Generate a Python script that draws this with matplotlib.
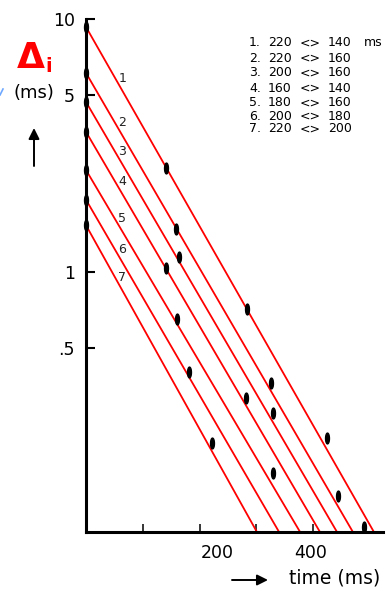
import numpy as np
import matplotlib
matplotlib.use("Agg")
import matplotlib.pyplot as plt
from matplotlib.path import Path
from matplotlib.lines import Line2D
from matplotlib.transforms import ScaledTranslation

# --- data -------------------------------------------------------------
line_ids = ["1", "2", "3", "4", "5", "6", "7"]
start_delta = [9.30, 6.12, 4.70, 3.58, 2.53, 1.93, 1.53]    # Δi at t = 0 (ms)
end_ms = [507, 470, 442, 412, 377, 340, 301]                 # time where each line reaches the floor
floor_delta = 0.0938

pair_a = [220, 220, 200, 160, 180, 200, 220]
pair_b = [140, 160, 160, 140, 160, 180, 200]

point_ms = [0, 0, 0, 0, 0, 0, 0,
            141, 159, 164, 141, 160, 181, 222,
            284, 326, 282, 329, 330,
            425, 444, 490]
point_delta = [9.30, 6.12, 4.70, 3.58, 2.53, 1.93, 1.53,
               2.58, 1.48, 1.15, 1.04, 0.652, 0.402, 0.211,
               0.714, 0.364, 0.318, 0.277, 0.161,
               0.221, 0.130, 0.098]

y_ticks = [10, 5, 1, 0.5]
y_tick_labels = ["10", "5", "1", ".5"]
x_ticks = [100, 200, 300, 400]
x_tick_labels = ["", "200", "", "400"]

# --- figure -----------------------------------------------------------
W, H = 391, 594
fig = plt.figure(figsize=(W / 100, H / 100), dpi=100)
ax = fig.add_axes([86 / W, 62 / H, 297 / W, 513 / H])

ax.set_yscale("log")
ax.set_xlim(0, 523)
ax.set_ylim(floor_delta, 10)

red = "#ff0000"
for i, lab in enumerate(line_ids):
    ax.plot([0, end_ms[i]], [start_delta[i], floor_delta], color=red, lw=1.3,
            solid_capstyle="butt", zorder=2)
    # label placed just right of the line
    t_lab = 64
    frac = t_lab / end_ms[i]
    v_lab = 10 ** (np.log10(start_delta[i]) * (1 - frac) + np.log10(floor_delta) * frac)
    ax.annotate(lab, xy=(t_lab, v_lab), xytext=(0, 9), textcoords="offset points",
                ha="center", va="center", fontsize=9, color="#222222")

# vertical oval markers
theta = np.linspace(0, 2 * np.pi, 40)
oval = Path(np.column_stack([0.36 * np.cos(theta), np.sin(theta)]), closed=True)
ax.plot(point_ms, point_delta, linestyle="none", marker=oval, markersize=7.8,
        color="black", zorder=4, clip_on=False)

# spines and ticks
for s in ["top", "right"]:
    ax.spines[s].set_visible(False)
ax.spines["left"].set_linewidth(2.2)
ax.spines["bottom"].set_linewidth(2.2)

ax.set_yticks(y_ticks)
ax.set_yticklabels(y_tick_labels)
ax.yaxis.set_minor_locator(matplotlib.ticker.NullLocator())
ax.tick_params(axis="y", direction="in", length=6.5, width=1.5, pad=8,
               labelsize=12.5)

ax.set_xticks(x_ticks)
ax.set_xticklabels(x_tick_labels)
ax.tick_params(axis="x", direction="in", length=5.5, width=1.1, pad=9,
               labelsize=12.5)
shifts = [0, 18, 0, -3]
for lbl, dx in zip(ax.get_xticklabels(), shifts):
    lbl.set_transform(lbl.get_transform() + ScaledTranslation(dx / 100, 0, fig.dpi_scale_trans))


def ftext(x, y, s, **kw):
    fig.text(x / W, 1 - y / H, s, **kw)


# pair legend
rows_y = [43, 58, 73, 88, 103, 116.5, 129]
for i in range(len(pair_a)):
    y = rows_y[i]
    ftext(249, y, f"{i + 1}.", ha="left", va="center", fontsize=9)
    ftext(280, y, str(pair_a[i]), ha="center", va="center", fontsize=9)
    ftext(310, y, "<>", ha="center", va="center", fontsize=9)
    ftext(340, y, str(pair_b[i]), ha="center", va="center", fontsize=9)
ftext(373, rows_y[0], "ms", ha="center", va="center", fontsize=9)

# y-axis label
ftext(31, 58, "Δ", ha="center", va="center", fontsize=26, color=red,
      fontweight="bold")
ftext(48.5, 67, "i", ha="center", va="center", fontsize=14, color=red,
      fontweight="bold")
ftext(34, 93, "(ms)", ha="center", va="center", fontsize=13)
fig.add_artist(Line2D([0 / W, 3 / W], [1 - 95 / H, 1 - 89 / H], color="#6fa8ff",
                      lw=1.2, transform=fig.transFigure))
ax.annotate("", xy=(34, H - 128), xytext=(34, H - 166), xycoords="figure pixels",
            textcoords="figure pixels",
            arrowprops=dict(arrowstyle="-|>", color="black", lw=1.4,
                            mutation_scale=16, shrinkA=0, shrinkB=0))

# x-axis label
ax.annotate("", xy=(268, H - 580), xytext=(232, H - 580), xycoords="figure pixels",
            textcoords="figure pixels",
            arrowprops=dict(arrowstyle="-|>", color="black", lw=1.4,
                            mutation_scale=16, shrinkA=0, shrinkB=0))
ftext(335, 578, "time (ms)", ha="center", va="center", fontsize=13.5)

fig.savefig("out.png", dpi=100)
